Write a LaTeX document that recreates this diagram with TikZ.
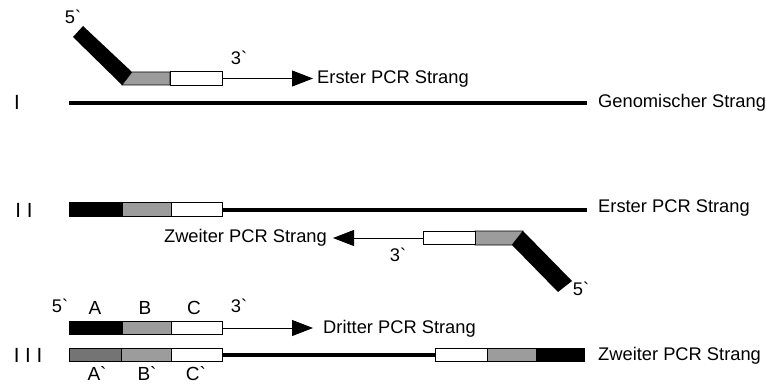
\documentclass[tikz,border=0pt]{standalone}
\usepackage{fontspec}
\setmainfont{Liberation Sans}[Ligatures=TeXOff]
\usetikzlibrary{arrows.meta}
\definecolor{midgray}{HTML}{9C9C9C}
\definecolor{darkgray2}{HTML}{747474}
\begin{document}
\begin{tikzpicture}[x=1pt,y=-1pt,
  seg/.style={draw=black, line width=0.8pt, inner sep=0pt, outer sep=0pt, minimum height=13.5pt, anchor=west},
  strand/.style={line width=4pt},
  thin/.style={line width=0.9pt},
  arr/.style={thin, -{Triangle[length=21pt,width=16pt]}},
  lbl/.style={inner sep=0pt, font=\fontsize{18.3}{21}\selectfont},
  roman/.style={inner sep=0pt, font=\fontsize{20.5}{23}\selectfont},
  letter/.style={inner sep=0pt, font=\fontsize{19}{22}\selectfont}]
\useasboundingbox (0,0) rectangle (767,385);

% ---------- Row I ----------
\node[roman] (rI) at (17,102) {I};
\fill[black] (73,37) -- (83,26) -- (132,72) -- (122,85) -- cycle;
\filldraw[fill=midgray, draw=black, line width=0.6pt] (122,85) -- (132,72) -- (170,72) -- (170,85) -- cycle;
\node[seg, fill=white, minimum width=52pt] (Iw) at (170,78.5) {};
\coordinate (Itip) at (313,78.5);
\draw[arr] (Iw.east) -- (Itip);
\node[lbl] (I5) at (73,17) {5`};
\node[lbl] (I3) at (239,58) {3`};
\node[lbl, anchor=west] (Ierst) at (317,79) {Erster PCR Strang};
\coordinate (Gs) at (69,103);
\node[lbl, anchor=west] (Igen) at (598,103) {Genomischer Strang};
\draw[strand] (Gs) -- (587,103) coordinate (Ge);

% ---------- Row II ----------
\node[roman] (rII) at (24,210) {I I};
\node[seg, fill=black, minimum width=53pt] (IIa) at (69,209.5) {};
\node[seg, fill=midgray, minimum width=49pt] (IIb) at (IIa.east) {};
\node[seg, fill=white, minimum width=51pt] (IIc) at (IIb.east) {};
\coordinate (IIend) at (587,209.5);
\draw[strand] (IIc.east) -- (IIend);
\node[lbl, anchor=west] (IIerst) at (598,208) {Erster PCR Strang};

\fill[black] (523,231) -- (512,245) -- (558,292) -- (572,281) -- cycle;
\filldraw[fill=midgray, draw=black, line width=0.6pt] (475,231) -- (523,231) -- (512,245) -- (475,245) -- cycle;
\node[seg, fill=white, minimum width=52pt] (IIw) at (423,238) {};
\coordinate (IItip) at (333,238);
\draw[arr] (IIw.west) -- (IItip);
\node[lbl, anchor=east] (IIzw) at (327,238) {Zweiter PCR Strang};
\node[lbl] (II3) at (398,255) {3`};
\node[lbl] (II5) at (581,289) {5`};

% ---------- Row III ----------
\node[roman] (rIII) at (28,355) {I I I};
\node[seg, fill=black, minimum width=53pt] (IIIa) at (69,328) {};
\node[seg, fill=midgray, minimum width=49pt] (IIIb) at (IIIa.east) {};
\node[seg, fill=white, minimum width=51pt] (IIIc) at (IIIb.east) {};
\coordinate (IIItip) at (313,328);
\draw[arr] (IIIc.east) -- (IIItip);
\node[lbl, anchor=west] (IIIdr) at (323,329) {Dritter PCR Strang};

\node[lbl] (III5) at (60,306) {5`};
\node[letter] (IIIA) at (95,308) {A};
\node[letter] (IIIB) at (145,308) {B};
\node[letter] (IIIC) at (194,308) {C};
\node[lbl] (III3) at (239,306) {3`};

\node[seg, fill=darkgray2, minimum width=52pt] (IVa) at (69,355) {};
\node[seg, fill=midgray, minimum width=50pt] (IVb) at (IVa.east) {};
\node[seg, fill=white, minimum width=51pt] (IVc) at (IVb.east) {};
\node[seg, fill=white, minimum width=52pt] (IVd) at (435,355) {};
\node[seg, fill=midgray, minimum width=49pt] (IVe) at (IVd.east) {};
\node[seg, fill=black, minimum width=48pt] (IVf) at (IVe.east) {};
\draw[strand] (IVc.east) -- (IVd.west);
\node[lbl, anchor=west] (IVzw) at (598,356) {Zweiter PCR Strang};

\node[letter] (IVA) at (97,373.5) {A`};
\node[letter] (IVB) at (147,373.5) {B`};
\node[letter] (IVC) at (196,373.5) {C`};
\end{tikzpicture}
\end{document}
